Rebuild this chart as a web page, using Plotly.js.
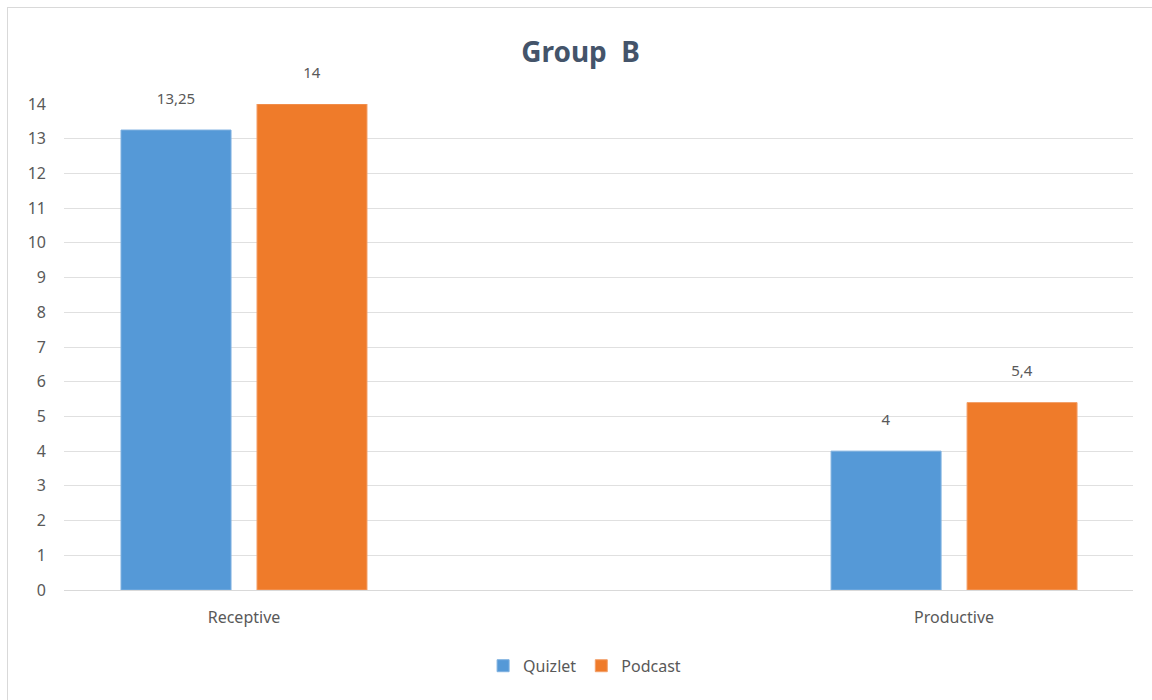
<!DOCTYPE html>
<html>
<head>
<meta charset="utf-8">
<script src="https://cdn.plot.ly/plotly-3.0.1.min.js"></script>
<style>
  html, body { margin: 0; padding: 0; background: #fff; overflow: hidden; }
  #frame { position: absolute; left: 7px; top: 7px; width: 1160px; height: 720px; border: 1px solid #d9d9d9; box-sizing: border-box; pointer-events: none; }
  #chart { position: absolute; left: 0; top: 0; width: 1152px; height: 700px; }
</style>
</head>
<body>
<div id="chart"></div>
<div id="frame"></div>
<script>
const categories = ["Receptive", "Productive"];
const quizlet = [13.25, 4];
const podcast = [14, 5.4];
const seriesNames = ["Quizlet", "Podcast"];
const yTicks = [0,1,2,3,4,5,6,7,8,9,10,11,12,13,14];

const fmt = v => String(v).replace('.', ',') + "<br> ";
const textFont = { family: "Noto Sans, Open Sans, sans-serif", size: 15, color: "#595959" };

const traces = [
  { type: "bar", name: seriesNames[0], x: [0, 1], y: quizlet,
    text: quizlet.map(fmt), textposition: "outside", textfont: textFont, cliponaxis: false,
    marker: { color: "#5599D7", line: { color: "#7fb1e0", width: 1 } }, hoverinfo: "y" },
  { type: "bar", name: seriesNames[1], x: [0, 1], y: podcast,
    text: podcast.map(fmt), textposition: "outside", textfont: textFont, cliponaxis: false,
    marker: { color: "#EF7B2A", line: { color: "#f3a06a", width: 1 } }, hoverinfo: "y" }
];

const layout = {
  width: 1152, height: 700,
  margin: { l: 64, r: 19, t: 104, b: 110 },
  paper_bgcolor: "rgba(0,0,0,0)", plot_bgcolor: "#fff",
  font: { family: "Noto Sans, Open Sans, sans-serif", size: 15, color: "#595959" },
  title: { text: "<b>Group&nbsp; B</b>", x: 0.504, xanchor: "center", y: 0.926, yanchor: "middle",
           font: { size: 28, color: "#44546A", family: "Noto Sans, Open Sans, sans-serif" } },
  barmode: "group", bargap: 0.617, bargroupgap: 0.191,
  xaxis: { range: [-0.2535, 1.252], tickvals: [0, 1], ticktext: categories,
           showgrid: false, zeroline: false, showline: false, ticks: "", ticklabelstandoff: 16,
           tickfont: { size: 16, color: "#595959" }, fixedrange: true },
  yaxis: { range: [0, 14], tickvals: yTicks, ticktext: yTicks.map(String),
           showgrid: true, gridcolor: "#e0e0e0", gridwidth: 1, zeroline: true, zerolinecolor: "#d9d9d9",
           showline: false, ticks: "", ticklabelstandoff: 17,
           tickfont: { size: 16, color: "#595959" }, fixedrange: true },
  showlegend: true,
  legend: { orientation: "h", x: 0.487, xanchor: "center", y: -0.156, yanchor: "middle",
            font: { size: 16, color: "#595959" }, itemwidth: 30, tracegroupgap: 0 }
};

Plotly.newPlot("chart", traces, layout, { displayModeBar: false, staticPlot: true });
</script>
</body>
</html>
